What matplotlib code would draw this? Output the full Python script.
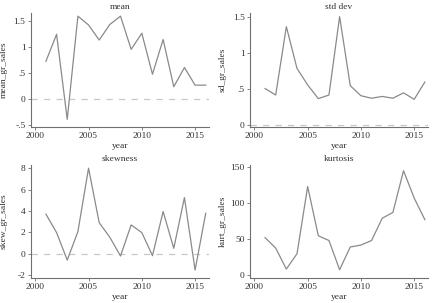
import matplotlib
matplotlib.use("Agg")
import matplotlib.pyplot as plt

plt.rcParams['font.family'] = ['Liberation Serif', 'DejaVu Serif']

years = list(range(2001, 2017))
mean_gr_sales = [0.72, 1.24, -0.40, 1.59, 1.42, 1.13, 1.43, 1.59,
                 0.95, 1.26, 0.47, 1.14, 0.23, 0.60, 0.26, 0.26]
sd_gr_sales = [0.51, 0.42, 1.37, 0.79, 0.56, 0.37, 0.42, 1.51,
               0.55, 0.41, 0.375, 0.40, 0.375, 0.45, 0.36, 0.60]
skew_gr_sales = [3.7, 1.97, -0.6, 2.06, 8.0, 2.9, 1.53, -0.22,
                 2.69, 1.97, -0.19, 3.94, 0.5, 5.25, -1.53, 3.78]
kurt_gr_sales = [52, 37.5, 8.3, 29.6, 123, 54.6, 48, 7.4,
                 39, 41.7, 48, 79, 87, 145, 107, 77]

panels = [
    ("mean", "mean_gr_sales", mean_gr_sales, (-0.54, 1.65),
     [-0.5, 0, 0.5, 1, 1.5], ["-.5", "0", ".5", "1", "1.5"], True),
    ("std dev", "sd_gr_sales", sd_gr_sales, (-0.02, 1.56),
     [0, 0.5, 1, 1.5], ["0", ".5", "1", "1.5"], True),
    ("skewness", "skew_gr_sales", skew_gr_sales, (-2.25, 8.3),
     [-2, 0, 2, 4, 6, 8], ["-2", "0", "2", "4", "6", "8"], True),
    ("kurtosis", "kurt_gr_sales", kurt_gr_sales, (-3.7, 153),
     [0, 50, 100, 150], ["0", "50", "100", "150"], False),
]

rects = [
    [0.0713, 0.582, 0.409, 0.375],
    [0.575, 0.582, 0.409, 0.375],
    [0.0713, 0.0835, 0.409, 0.372],
    [0.575, 0.0835, 0.409, 0.372],
]

fig = plt.figure(figsize=(4.35, 3.03), dpi=100)
axis_col = "#707070"
text_col = "#333333"
fs = 6.8

for rect, (title, ylab, vals, ylim, yt, ytl, zero) in zip(rects, panels):
    ax = fig.add_axes(rect)
    if zero:
        ax.axhline(0, color="#c8c8c8", lw=0.9, ls=(0, (5, 5)))
    ax.plot(years, vals, color="#8a8a8a", lw=0.9)
    ax.set_xlim(1999.6, 2016.3)
    ax.set_ylim(*ylim)
    ax.set_xticks([2000, 2005, 2010, 2015])
    ax.set_yticks(yt)
    ax.set_yticklabels(ytl)
    ax.set_title(title, fontsize=fs, color=text_col, pad=3)
    ax.set_xlabel("year", fontsize=fs, color=text_col, labelpad=1)
    ax.set_ylabel(ylab, fontsize=fs, color=text_col)
    ax.yaxis.set_label_coords(-0.13, 0.5)
    ax.tick_params(labelsize=fs, colors=axis_col, labelcolor=text_col,
                   length=2, width=0.6, pad=2)
    for s in ["top", "right"]:
        ax.spines[s].set_visible(False)
    for s in ["left", "bottom"]:
        ax.spines[s].set_color(axis_col)
        ax.spines[s].set_linewidth(0.8)

fig.savefig("out.png", dpi=100, facecolor="white")
